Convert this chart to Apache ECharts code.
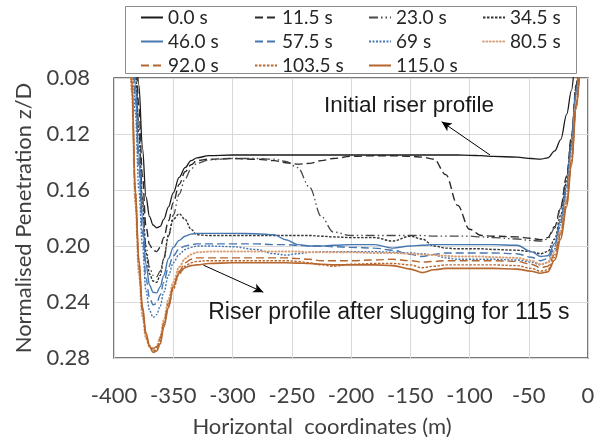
<!DOCTYPE html>
<html>
<head>
<meta charset="utf-8">
<script src="https://cdn.jsdelivr.net/npm/echarts@6/dist/echarts.min.js"></script>
<style>
  html, body { margin: 0; padding: 0; background: #ffffff; }
  #chart { width: 605px; height: 442px; }
</style>
</head>
<body>
<div id="chart"></div>
<script>
// Horizontal coordinate (m) shared by every riser profile
const xCoords = [-388, -385, -382, -379, -376, -373, -370, -367, -364, -361, -358, -354, -350, -345, -340, -335, -330,
  -320, -300, -280, -265, -255, -245, -235, -225, -215, -200,
  -180, -165, -150, -140, -130, -120, -110, -100, -90, -80,
  -60, -48, -40, -34, -28, -23, -18, -14, -10, -6];

const seriesNames = ['0.0 s', '11.5 s', '23.0 s', '34.5 s', '46.0 s', '57.5 s', '69 s', '80.5 s', '92.0 s', '103.5 s', '115.0 s'];

// Normalised penetration z/D for each time step
const p0 = [0.0, 0.02, 0.05, 0.085, 0.13, 0.165, 0.179, 0.185, 0.187, 0.186, 0.181, 0.172, 0.162, 0.151, 0.144, 0.139, 0.137,
  0.1355, 0.135, 0.135, 0.135, 0.135, 0.135, 0.135, 0.135, 0.135, 0.135,
  0.135, 0.135, 0.135, 0.135, 0.135, 0.135, 0.135, 0.1352, 0.1355, 0.136,
  0.1365, 0.1375, 0.138, 0.137, 0.132, 0.124, 0.106, 0.089, 0.062, 0.035];
const p11 = [0.0, 0.03, 0.06, 0.1, 0.15, 0.186, 0.199, 0.203, 0.204, 0.201, 0.194, 0.182, 0.169, 0.156, 0.147, 0.142, 0.139,
  0.138, 0.1375, 0.138, 0.139, 0.1405, 0.1415, 0.141, 0.139, 0.1375, 0.136,
  0.1355, 0.1355, 0.136, 0.1365, 0.138, 0.149, 0.171, 0.188, 0.1925, 0.193,
  0.1935, 0.1945, 0.1955, 0.194, 0.186, 0.172, 0.15, 0.122, 0.085, 0.045];
const p23 = [0.0, 0.035, 0.07, 0.115, 0.165, 0.2, 0.215, 0.221, 0.222, 0.218, 0.209, 0.193, 0.178, 0.163, 0.152, 0.145, 0.141,
  0.1385, 0.1375, 0.1375, 0.138, 0.1395, 0.144, 0.158, 0.179, 0.19, 0.1925,
  0.1925, 0.1925, 0.1925, 0.1925, 0.193, 0.193, 0.193, 0.193, 0.1935, 0.194,
  0.195, 0.196, 0.1965, 0.195, 0.187, 0.173, 0.151, 0.123, 0.086, 0.046];
const p34 = [0.0, 0.035, 0.075, 0.12, 0.17, 0.205, 0.22, 0.225, 0.226, 0.221, 0.209, 0.192, 0.181, 0.177, 0.181, 0.188, 0.192,
  0.1925, 0.1925, 0.1925, 0.1925, 0.1925, 0.1925, 0.1925, 0.193, 0.1935, 0.194,
  0.194, 0.1965, 0.193, 0.195, 0.2, 0.2015, 0.202, 0.202, 0.202, 0.2025,
  0.203, 0.204, 0.2055, 0.204, 0.195, 0.178, 0.154, 0.125, 0.087, 0.047];
const p46 = [0.0, 0.04, 0.085, 0.135, 0.18, 0.213, 0.228, 0.233, 0.2335, 0.229, 0.221, 0.209, 0.201, 0.196, 0.193, 0.1915, 0.191,
  0.191, 0.191, 0.1912, 0.192, 0.1955, 0.199, 0.2, 0.2, 0.1995, 0.199,
  0.199, 0.2015, 0.2, 0.1995, 0.199, 0.199, 0.199, 0.199, 0.199, 0.199,
  0.1995, 0.204, 0.2075, 0.207, 0.198, 0.181, 0.157, 0.127, 0.088, 0.048];
const p57 = [0.0, 0.045, 0.095, 0.145, 0.19, 0.223, 0.237, 0.242, 0.241, 0.235, 0.226, 0.215, 0.207, 0.202, 0.2, 0.199, 0.1985,
  0.1985, 0.1985, 0.1985, 0.199, 0.199, 0.1995, 0.2, 0.2, 0.2005, 0.201,
  0.2015, 0.203, 0.206, 0.2075, 0.206, 0.205, 0.205, 0.205, 0.205, 0.205,
  0.2055, 0.208, 0.2105, 0.209, 0.2, 0.183, 0.159, 0.129, 0.09, 0.05];
const p69 = [0.0, 0.05, 0.105, 0.16, 0.2, 0.232, 0.246, 0.251, 0.249, 0.243, 0.233, 0.221, 0.212, 0.206, 0.2025, 0.201, 0.2,
  0.2, 0.2005, 0.2025, 0.2055, 0.2065, 0.2055, 0.2045, 0.204, 0.204, 0.204,
  0.204, 0.2045, 0.205, 0.2055, 0.2065, 0.2085, 0.2095, 0.2095, 0.2095, 0.2095,
  0.21, 0.2115, 0.2135, 0.2115, 0.202, 0.185, 0.161, 0.131, 0.092, 0.052];
const p80 = [0.0, 0.09, 0.17, 0.22, 0.25, 0.266, 0.272, 0.274, 0.272, 0.265, 0.253, 0.238, 0.226, 0.215, 0.209, 0.206, 0.2045,
  0.204, 0.204, 0.204, 0.204, 0.204, 0.204, 0.2045, 0.2045, 0.2045, 0.2045,
  0.205, 0.205, 0.2055, 0.206, 0.2065, 0.207, 0.2075, 0.2075, 0.2075, 0.208,
  0.2085, 0.2105, 0.213, 0.212, 0.204, 0.189, 0.166, 0.137, 0.097, 0.055];
const p92 = [0.0, 0.085, 0.165, 0.215, 0.247, 0.264, 0.271, 0.273, 0.272, 0.266, 0.255, 0.241, 0.229, 0.218, 0.212, 0.2095, 0.2085,
  0.2085, 0.2085, 0.2085, 0.2085, 0.2085, 0.209, 0.2095, 0.2105, 0.2105, 0.2105,
  0.21, 0.2095, 0.2105, 0.2115, 0.211, 0.2105, 0.2105, 0.2105, 0.2105, 0.2105,
  0.211, 0.213, 0.2155, 0.2145, 0.206, 0.191, 0.168, 0.139, 0.099, 0.057];
const p103 = [0.0, 0.08, 0.16, 0.21, 0.245, 0.263, 0.271, 0.275, 0.274, 0.268, 0.257, 0.243, 0.231, 0.22, 0.2145, 0.212, 0.211,
  0.2105, 0.2105, 0.2105, 0.2105, 0.2105, 0.211, 0.212, 0.2135, 0.2145, 0.213,
  0.2125, 0.2125, 0.2135, 0.2155, 0.2145, 0.2135, 0.2135, 0.2135, 0.2135, 0.2135,
  0.214, 0.216, 0.218, 0.217, 0.208, 0.193, 0.17, 0.141, 0.1, 0.058];
const p115 = [0.0, 0.08, 0.16, 0.21, 0.243, 0.262, 0.272, 0.276, 0.275, 0.27, 0.258, 0.244, 0.229, 0.219, 0.2155, 0.214, 0.2135,
  0.2125, 0.212, 0.212, 0.212, 0.212, 0.2122, 0.2125, 0.213, 0.2135, 0.2135,
  0.2135, 0.214, 0.2165, 0.219, 0.217, 0.216, 0.216, 0.216, 0.216, 0.216,
  0.2165, 0.218, 0.2195, 0.2185, 0.21, 0.195, 0.172, 0.143, 0.102, 0.06];

const profiles = [p0, p11, p23, p34, p46, p57, p69, p80, p92, p103, p115];

// Axis ticks
const xTickMin = -400, xTickMax = 0, xTickStep = 50;
const yTickMin = 0.08, yTickMax = 0.28, yTickStep = 0.04;

// Annotation anchors in data coordinates: [from (on curve), to (arrow head)]
const initialArrow = [[-82.7, 0.135], [-123.5, 0.1112]];
const finalArrow = [[-324.5, 0.2137], [-274, 0.2330]];
const initialLabel = { text: 'Initial riser profile', at: [-151, 0.1] };
const finalLabel = { text: 'Riser profile after slugging for 115 s', at: [-168, 0.2478] };

// Line appearance per time step
const lineLooks = [
  { color: '#1a1a1a', type: 'solid', width: 1.3 },
  { color: '#2b2b2b', type: [8, 4], width: 1.4 },
  { color: '#4a4a4a', type: [9, 3, 1.5, 3, 1.5, 3], width: 1.3 },
  { color: '#333333', type: [2.5, 1.5], width: 1.4 },
  { color: '#4677b0', type: 'solid', width: 1.4 },
  { color: '#4677b0', type: [8, 4], width: 1.4 },
  { color: '#4677b0', type: [2, 1.5], width: 1.4 },
  { color: '#d9a077', type: [0.8, 2.6], width: 2, cap: 'round' },
  { color: '#b5672f', type: [8, 4], width: 1.4 },
  { color: '#b5672f', type: [2.5, 1.5], width: 1.4 },
  { color: '#b5672f', type: 'solid', width: 1.6 }
];

const chart = echarts.init(document.getElementById('chart'), null, { renderer: 'canvas' });

const axisFont = 'Lato, "Liberation Sans", Arial, sans-serif';
const noteFont = '"Liberation Sans", Arial, sans-serif';

const series = seriesNames.map((name, i) => {
  const look = lineLooks[i];
  return {
    name: name,
    type: 'line',
    data: xCoords.map((x, k) => [x, profiles[i][k]]),
    showSymbol: false,
    symbol: 'none',
    smooth: 0.35,
    smoothMonotone: 'x',
    clip: true,
    lineStyle: { color: look.color, type: look.type, width: look.width, cap: look.cap || 'butt' },
    itemStyle: { color: look.color },
    emphasis: { disabled: true },
    animation: false,
    z: 2 + i
  };
});

// Annotation arrows
series[0].markLine = {
  silent: true,
  symbol: ['none', 'arrow'],
  symbolSize: [7, 10],
  label: { show: false },
  lineStyle: { color: '#000000', type: 'solid', width: 1 },
  animation: false,
  data: [
    [{ coord: initialArrow[0] }, { coord: initialArrow[1] }],
    [{ coord: finalArrow[0] }, { coord: finalArrow[1] }]
  ]
};

chart.setOption({
  backgroundColor: '#ffffff',
  animation: false,
  grid: {
    left: 114, right: 17, top: 78, bottom: 84,
    show: true, borderColor: '#4d4d4d', borderWidth: 1.5, backgroundColor: 'transparent'
  },
  legend: {
    data: seriesNames,
    left: 140, top: 8, width: 460,
    padding: 0,
    itemGap: 5,
    itemWidth: 22, itemHeight: 14,
    selectedMode: false,
    itemStyle: { opacity: 0 },
    textStyle: { fontFamily: axisFont, fontSize: 19, color: '#262626', width: 81, lineHeight: 18 }
  },
  xAxis: {
    type: 'value',
    min: xTickMin, max: xTickMax, interval: xTickStep,
    axisLine: { show: false },
    axisTick: { show: false },
    axisLabel: { fontFamily: axisFont, fontSize: 22, color: '#404040', margin: 27 },
    splitLine: { show: true, lineStyle: { color: '#d9d9d9', width: 1 } }
  },
  yAxis: {
    type: 'value',
    inverse: true,
    min: yTickMin, max: yTickMax, interval: yTickStep,
    axisLine: { show: false },
    axisTick: { show: false },
    axisLabel: { fontFamily: axisFont, fontSize: 22, color: '#404040', margin: 24,
      formatter: v => v.toFixed(2) },
    splitLine: { show: true, lineStyle: { color: '#d9d9d9', width: 1 } }
  },
  series: series
});

// Legend frame, axis titles and annotation texts
const a = chart.convertToPixel({ gridIndex: 0 }, initialLabel.at);
const b = chart.convertToPixel({ gridIndex: 0 }, finalLabel.at);
const gridRect = chart.getModel().getComponent('grid').coordinateSystem.getRect();

chart.setOption({
  graphic: [
    { type: 'rect', shape: { x: 125.5, y: 6.5, width: 451, height: 67 },
      style: { fill: 'none', stroke: '#8c8c8c', lineWidth: 1 }, silent: true, z: 0 },
    { type: 'text', x: a[0], y: a[1],
      style: { text: initialLabel.text, font: '22.5px ' + noteFont, fill: '#1a1a1a', align: 'center', verticalAlign: 'middle' }, silent: true, z: 20 },
    { type: 'text', x: b[0], y: b[1],
      style: { text: finalLabel.text, font: '23px ' + noteFont, fill: '#1a1a1a', align: 'center', verticalAlign: 'middle' }, silent: true, z: 20 },
    { type: 'text', x: 322, y: 427,
      style: { text: 'Horizontal  coordinates (m)', font: '22px ' + axisFont, fill: '#404040', align: 'center', verticalAlign: 'middle' }, silent: true },
    { type: 'text', x: 24, y: gridRect.y + gridRect.height / 2, rotation: Math.PI / 2,
      style: { text: 'Normalised Penetration z/D', font: '22px ' + axisFont, fill: '#404040', align: 'center', verticalAlign: 'middle' }, silent: true }
  ]
});
</script>
</body>
</html>
